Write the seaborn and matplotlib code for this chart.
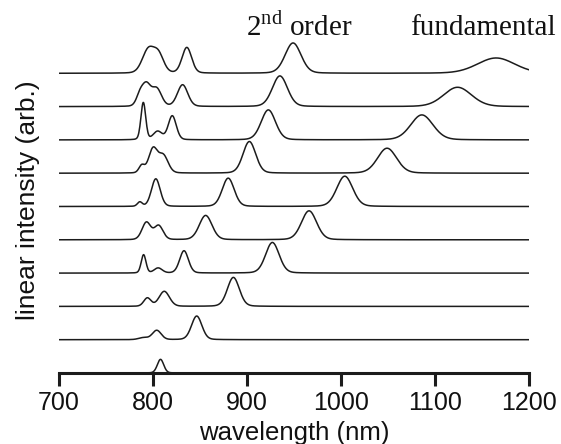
import numpy as np
import pandas as pd
import seaborn as sns
import matplotlib.pyplot as plt

sns.set_style("white")
plt.rcParams['font.family'] = ['Liberation Sans', 'DejaVu Sans']
plt.rcParams['mathtext.fontset'] = 'custom'
plt.rcParams['mathtext.rm'] = 'Liberation Serif'
plt.rcParams['text.color'] = '#111111'
plt.rcParams['axes.labelcolor'] = '#111111'
plt.rcParams['xtick.color'] = '#111111'

# peaks, one list per spectrum (bottom to top)
# each peak: (centre nm, height in trace-spacing units, fwhm nm)
spec0 = [(808, 0.41, 8)]
spec1 = [(790, 0.06, 12), (804, 0.28, 11), (846.5, 0.71, 13)]
spec2 = [(794, 0.25, 9), (812, 0.45, 13), (885.5, 0.87, 15)]
spec3 = [(790, 0.55, 6), (805.5, 0.15, 10), (833, 0.67, 11), (927, 0.92, 17)]
spec4 = [(793, 0.52, 11), (806, 0.42, 11), (856, 0.73, 16), (966, 0.87, 19)]
spec5 = [(786, 0.13, 6), (803, 0.83, 11), (880, 0.85, 15), (1004, 0.91, 20)]
spec6 = [(788, 0.22, 7), (800, 0.72, 11), (811, 0.52, 12), (902.5, 0.95, 16), (1049, 0.75, 24)]
spec7 = [(789.7, 1.12, 6), (805, 0.25, 11), (820.5, 0.72, 10), (922.7, 0.9, 18), (1086, 0.75, 28)]
spec8 = [(786, 0.3, 9), (793, 0.62, 11), (804, 0.52, 12), (831.5, 0.65, 13), (935, 0.92, 19), (1124, 0.58, 35)]
spec9 = [(795, 0.7, 15), (806, 0.52, 13), (836, 0.77, 12), (949, 0.91, 20), (1165, 0.46, 47)]
spectra = [spec0, spec1, spec2, spec3, spec4, spec5, spec6, spec7, spec8, spec9]

wl = np.linspace(700, 1200, 1001)
xticks = [700, 800, 900, 1000, 1100, 1200]


def profile(peaks):
    y = np.zeros_like(wl)
    for c, h, w in peaks:
        g = np.exp(-4 * np.log(2) * (wl - c) ** 2 / w ** 2)
        l = 1 / (1 + 4 * (wl - c) ** 2 / w ** 2)
        y += h * (0.85 * g + 0.15 * l)
    return y


rows = []
for i, pk in enumerate(spectra):
    rows.append(pd.DataFrame({'wavelength': wl, 'signal': profile(pk) + i, 'trace': i}))
df = pd.concat(rows)

fig = plt.figure(figsize=(5.61, 4.44), dpi=100)
ax = fig.add_axes([59 / 561, 71 / 444, 470 / 561, 333 / 444])
sns.lineplot(data=df, x='wavelength', y='signal', units='trace', estimator=None,
             color='#1c1c1c', lw=1.1, ax=ax, legend=False)

ax.set_xlim(700, 1200)
ax.set_ylim(0, 10)
for s in ['left', 'top', 'right']:
    ax.spines[s].set_visible(False)
ax.spines['bottom'].set_linewidth(2.2)
ax.spines['bottom'].set_color('#1c1c1c')
ax.set_xticks(xticks)
ax.set_yticks([])
ax.tick_params(axis='x', bottom=True, direction='out', length=9, width=2.2,
               color='#1c1c1c', labelsize=18, pad=4)
ax.set_xlabel('wavelength (nm)', fontsize=18.5, labelpad=4)
ax.set_ylabel('linear intensity (arb.)', fontsize=19)
ax.yaxis.set_label_coords(-0.04, 0.52)

fig.text(246 / 561, 0.919, '2$^{\\mathrm{nd}}$ order', family='Liberation Serif',
         fontsize=21, va='baseline')
fig.text(410 / 561, 0.921, 'fundamental', family='Liberation Serif',
         fontsize=21, va='baseline')

fig.savefig('out.png', dpi=100)
